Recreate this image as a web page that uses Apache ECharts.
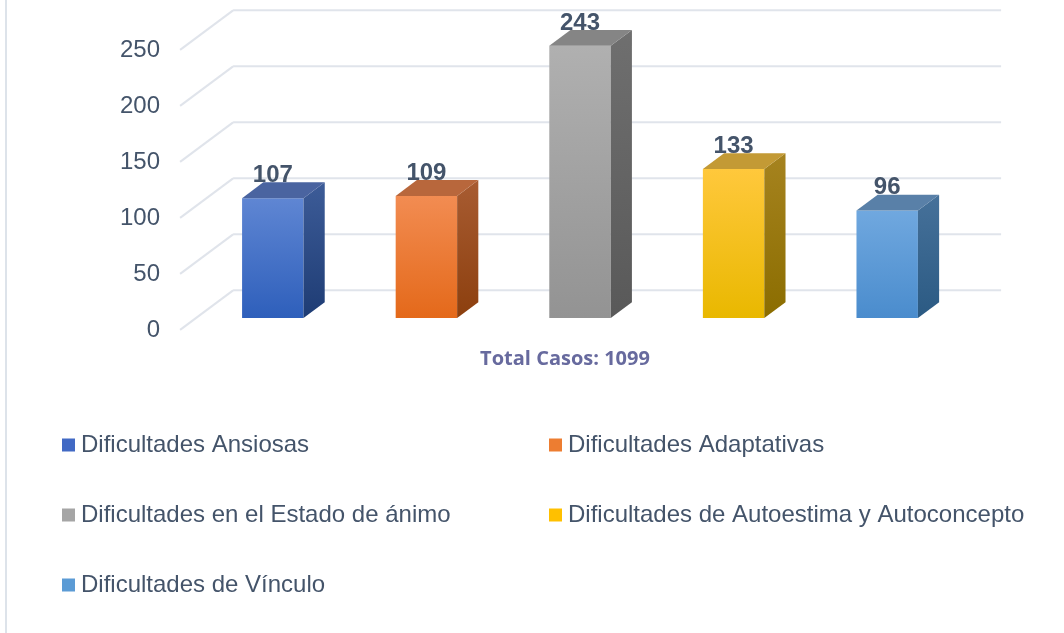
<!DOCTYPE html>
<html>
<head>
<meta charset="utf-8">
<script src="https://cdn.jsdelivr.net/npm/echarts@6/dist/echarts.min.js"></script>
<style>
html, body { margin: 0; padding: 0; background: #fff; }
#main { width: 1064px; height: 633px; }
</style>
</head>
<body>
<div id="main"></div>
<script>
// datos
var categories = ['Dificultades Ansiosas', 'Dificultades Adaptativas', 'Dificultades en el Estado de ánimo',
	'Dificultades de Autoestima y Autoconcepto', 'Dificultades de Vínculo'];
var values = [107, 109, 243, 133, 96];
var yTicks = [0, 50, 100, 150, 200, 250];
var totalText = 'Total Casos: 1099';

// estilos de las barras 3D
var legendColors = ['#4169c4', '#ed7d31', '#a5a5a5', '#ffc000', '#5b9bd5'];
var palette = [
	{front: ['#5f86d3', '#2e5fbb'], side: ['#3d5c98', '#1e3c74'], top: '#4a64a0'},
	{front: ['#f28c52', '#e4691a'], side: ['#a85c32', '#8c3f0e'], top: '#b8673c'},
	{front: ['#b0b0b0', '#939393'], side: ['#6f6f6f', '#595959'], top: '#858585'},
	{front: ['#ffc83c', '#e9b800'], side: ['#a6831f', '#8b6d00'], top: '#c39a35'},
	{front: ['#70a8df', '#4a8ccd'], side: ['#46719a', '#2b5a83'], top: '#5980a8'}
];
var DEPTH = [53, -39.5];   // profundidad de la caja completa
var BAR_POS = 0.3;         // plano frontal de las barras dentro de la caja
var BAR_DEPTH = 0.4;
var textColor = '#44546a';
var lineColor = '#e0e4eb';
var arial = '"Liberation Sans", Arial, sans-serif';

function vgrad(a, b) {
	return new echarts.graphic.LinearGradient(0, 0, 0, 1, [{offset: 0, color: a}, {offset: 1, color: b}]);
}

// paredes: lineas del fondo y diagonales
function renderWalls(params, api) {
	var v = api.value(1);
	var half = api.size([1, 0])[0] / 2;
	var p0 = api.coord([0, v]);
	var p1 = api.coord([categories.length - 1, v]);
	var bx = DEPTH[0] * (1 - BAR_POS), by = DEPTH[1] * (1 - BAR_POS);
	var fx = -DEPTH[0] * BAR_POS, fy = -DEPTH[1] * BAR_POS;
	var xl = p0[0] - half, xr = p1[0] + half, y = p0[1];
	var st = {stroke: lineColor, lineWidth: 2};
	return {
		type: 'group',
		children: [
			{type: 'line', shape: {x1: xl + bx, y1: y + by, x2: xr + bx, y2: y + by}, style: st},
			{type: 'line', shape: {x1: xl + fx, y1: y + fy, x2: xl + bx, y2: y + by}, style: st}
		]
	};
}

function renderBar(params, api) {
	var i = api.value(0);
	var c = palette[i];
	var base = api.coord([i, 0]);
	var top = api.coord([i, api.value(1)]);
	var bw = api.size([1, 0])[0] * 0.4;
	var dx = DEPTH[0] * BAR_DEPTH, dy = DEPTH[1] * BAR_DEPTH;
	var xl = base[0] - bw / 2, xr = base[0] + bw / 2, yb = base[1], yt = top[1];
	return {
		type: 'group',
		children: [
			{type: 'polygon', shape: {points: [[xl, yt], [xr, yt], [xr, yb], [xl, yb]]},
				style: {fill: vgrad(c.front[0], c.front[1])}},
			{type: 'polygon', shape: {points: [[xr, yt], [xr + dx, yt + dy], [xr + dx, yb + dy], [xr, yb]]},
				style: {fill: vgrad(c.side[0], c.side[1])}},
			{type: 'polygon', shape: {points: [[xl, yt], [xl + dx, yt + dy], [xr + dx, yt + dy], [xr, yt]]},
				style: {fill: c.top}},
			{type: 'text', x: base[0], y: yt + dy + 5, z2: 10,
				style: {text: String(api.value(1)), fill: textColor, align: 'center', verticalAlign: 'bottom',
					font: 'bold 24px ' + arial}}
		]
	};
}

var myChart = echarts.init(document.getElementById('main'));

var series = [{
	type: 'custom',
	xAxisIndex: 0,
	yAxisIndex: 0,
	silent: true,
	z: 1,
	renderItem: renderWalls,
	data: yTicks.map(function (v) { return [0, v]; })
}];
categories.forEach(function (name, i) {
	series.push({
		name: name,
		type: 'custom',
		xAxisIndex: 0,
		yAxisIndex: 0,
		z: 3,
		itemStyle: {color: legendColors[i]},
		renderItem: renderBar,
		data: [[i, values[i]]]
	});
});

var legendCommon = {
	orient: 'vertical',
	top: 433,
	padding: 0,
	itemWidth: 13,
	itemHeight: 13,
	itemGap: 46,
	icon: 'rect',
	selectedMode: false,
	textStyle: {color: textColor, fontSize: 24, fontFamily: arial, padding: [0, 0, 0, 1]}
};

var option = {
	animation: false,
	backgroundColor: '#fff',
	title: {
		text: totalText,
		left: 565,
		top: 349,
		padding: 0,
		textAlign: 'center',
		textStyle: {color: '#676a9e', fontSize: 20, fontWeight: 'bold', fontFamily: '"Open Sans", sans-serif'}
	},
	legend: [
		Object.assign({left: 62, data: [categories[0], categories[2], categories[4]]}, legendCommon),
		Object.assign({left: 549, data: [categories[1], categories[3]]}, legendCommon)
	],
	grid: [
		// plano frontal de las barras
		{left: 196, right: 100, top: 38, bottom: 315},
		// plano frontal de la caja (etiquetas)
		{left: 180, right: 116, top: 50, bottom: 303}
	],
	xAxis: [
		{type: 'category', gridIndex: 0, data: categories, show: false},
		{type: 'category', gridIndex: 1, data: categories, show: false}
	],
	yAxis: [
		{type: 'value', gridIndex: 0, min: 0, max: 250, interval: 50, show: false},
		{type: 'value', gridIndex: 1, min: 0, max: 250, interval: 50,
			axisLine: {show: false}, axisTick: {show: false}, splitLine: {show: false},
			axisLabel: {color: textColor, fontSize: 24, margin: 20, fontFamily: arial}}
	],
	graphic: [
		{type: 'rect', left: 5, top: 0, shape: {width: 2, height: 633}, style: {fill: '#dde3ea'}}
	],
	series: series
};

myChart.setOption(option);
</script>
</body>
</html>
